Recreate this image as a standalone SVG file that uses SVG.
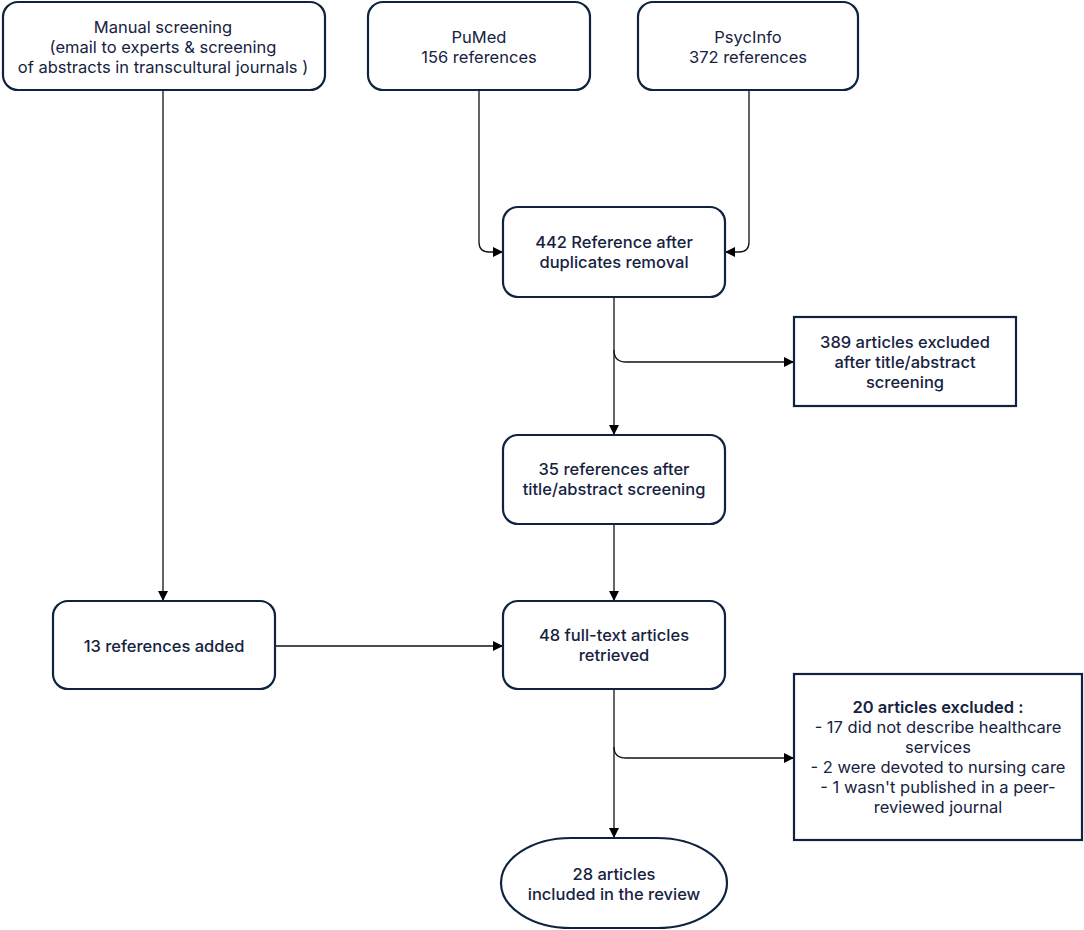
<svg xmlns="http://www.w3.org/2000/svg" width="1084" height="930" viewBox="0 0 1084 930">
<style>
.n{fill:#fff;stroke:#0f2340;stroke-width:2.2}
.t{font-family:Inter,"Liberation Sans",sans-serif;font-size:16.5px;fill:#16233f;text-anchor:middle}
.b{font-weight:500}
.h{font-weight:600}
.c{fill:none;stroke:#111;stroke-width:1.3}
</style>
<defs>
<marker id="a" viewBox="0 0 10 10" refX="10" refY="5" markerWidth="10" markerHeight="10" markerUnits="userSpaceOnUse" orient="auto">
<path d="M0,0 L10,5 L0,10 Z" fill="#000"/>
</marker>
</defs>
<rect width="1084" height="930" fill="#fff"/>
<g id="connectors">
<path class="c" d="M163,90 V601" marker-end="url(#a)"/>
<path class="c" d="M479,90 V242 Q479,252 489,252 H503" marker-end="url(#a)"/>
<path class="c" d="M749,90 V242 Q749,252 739,252 H725" marker-end="url(#a)"/>
<path class="c" d="M614,297 V435" marker-end="url(#a)"/>
<path class="c" d="M614,350 Q614,362 626,362 H794" marker-end="url(#a)"/>
<path class="c" d="M614,524 V601" marker-end="url(#a)"/>
<path class="c" d="M275,646 H503" marker-end="url(#a)"/>
<path class="c" d="M614,689 V838" marker-end="url(#a)"/>
<path class="c" d="M614,747 Q614,758 626,758 H794" marker-end="url(#a)"/>
</g>
<g id="manual">
<rect class="n" x="3" y="2" width="322" height="88" rx="15"/>
<text class="t" x="163" y="33">Manual screening</text>
<text class="t" x="163" y="53">(email to experts &amp; screening</text>
<text class="t" x="163" y="73">of abstracts in transcultural journals )</text>
</g>
<g id="pumed">
<rect class="n" x="368" y="2" width="222" height="88" rx="15"/>
<text class="t" x="479" y="43">PuMed</text>
<text class="t" x="479" y="63">156 references</text>
</g>
<g id="psycinfo">
<rect class="n" x="638" y="2" width="220" height="88" rx="15"/>
<text class="t" x="748" y="43">PsycInfo</text>
<text class="t" x="748" y="63">372 references</text>
</g>
<g id="dedup">
<rect class="n" x="503" y="207" width="222" height="90" rx="15"/>
<text class="t b" x="614" y="248">442 Reference after</text>
<text class="t b" x="614" y="268">duplicates removal</text>
</g>
<g id="excl1">
<rect class="n" x="794" y="317" width="222" height="89"/>
<text class="t b" x="905" y="348">389 articles excluded</text>
<text class="t b" x="905" y="368">after title/abstract</text>
<text class="t b" x="905" y="388">screening</text>
</g>
<g id="screened">
<rect class="n" x="503" y="435" width="222" height="89" rx="15"/>
<text class="t b" x="614" y="475">35 references after</text>
<text class="t b" x="614" y="495">title/abstract screening</text>
</g>
<g id="added">
<rect class="n" x="53" y="601" width="222" height="88" rx="15"/>
<text class="t b" x="164" y="652">13 references added</text>
</g>
<g id="fulltext">
<rect class="n" x="503" y="601" width="222" height="88" rx="15"/>
<text class="t b" x="614" y="641">48 full-text articles</text>
<text class="t b" x="614" y="661">retrieved</text>
</g>
<g id="excl2">
<rect class="n" x="794" y="674" width="288" height="166"/>
<text class="t h" x="938" y="713">20 articles excluded :</text>
<text class="t" x="938" y="733">- 17 did not describe healthcare</text>
<text class="t" x="938" y="753">services</text>
<text class="t" x="938" y="773">- 2 were devoted to nursing care</text>
<text class="t" x="938" y="793">- 1 wasn't published in a peer-</text>
<text class="t" x="938" y="813">reviewed journal</text>
</g>
<g id="included">
<rect class="n" x="501" y="838" width="226" height="90" rx="70" ry="45"/>
<text class="t b" x="614" y="880">28 articles</text>
<text class="t b" x="614" y="900">included in the review</text>
</g>
</svg>
